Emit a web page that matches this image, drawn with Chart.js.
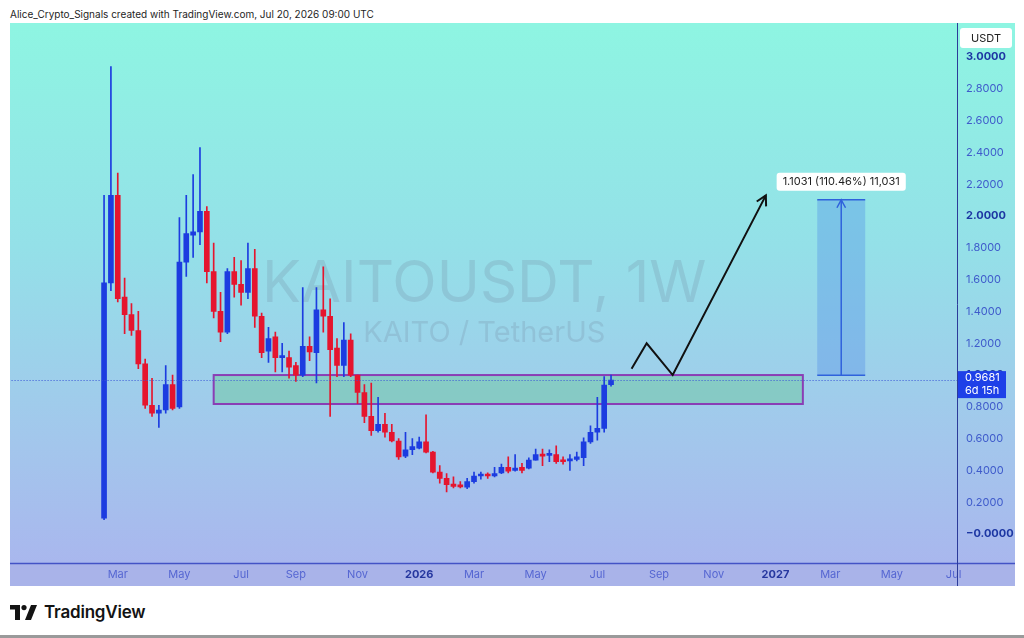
<!DOCTYPE html>
<html>
<head>
<meta charset="utf-8">
<title>KAITOUSDT, 1W</title>
<script src="https://cdn.jsdelivr.net/npm/chart.js@4.4.1/dist/chart.umd.min.js"></script>
<style>
  html, body { margin: 0; padding: 0; background: #fff; }
  body { width: 1024px; height: 638px; position: relative; overflow: hidden; font-family: Inter, "Noto Sans", sans-serif; }
  .header { position: absolute; left: 10px; top: 8px; font-size: 10px; color: #1e1e1e; white-space: nowrap; }
  .chartBox { position: absolute; left: 10px; top: 23px; width: 1005px; height: 563px; }
  .footer { position: absolute; left: 10px; top: 601px; height: 22px; display: flex; align-items: center; }
  .footer svg { margin-right: 7px; }
  .footer span { font-size: 17px; font-weight: 600; color: #131313; letter-spacing: -0.2px; }
  .bottomLine { position: absolute; left: 0; top: 635px; width: 1024px; height: 3px; background: #9a9a9a; }
</style>
</head>
<body>
<div class="header">Alice_Crypto_Signals created with TradingView.com, Jul 20, 2026 09:00 UTC</div>
<div class="chartBox"><canvas id="kaitoChart"></canvas></div>
<div class="footer">
  <svg width="27" height="15" viewBox="0 0 27 15">
    <rect x="0" y="0" width="10" height="4.5" fill="#131313"/>
    <rect x="5" y="0" width="5" height="15" fill="#131313"/>
    <circle cx="14" cy="2.6" r="2.6" fill="#131313"/>
    <polygon points="15,15 21,0 27,0 21,15" fill="#131313"/>
  </svg>
  <span>TradingView</span>
</div>
<div class="bottomLine"></div>

<script>
// weekly candles, first one = week of Feb 17 2025, last = week of Jul 20 2026
const opens  = [0.10, 1.58, 2.13, 1.49, 1.38, 1.28, 1.07, 0.81, 0.76, 0.78,
                0.94, 0.80, 1.71, 1.88, 1.90, 2.03, 1.65, 1.40, 1.27, 1.65,
                1.57, 1.52, 1.67, 1.37, 1.15, 1.24, 1.11, 1.11, 1.06, 1.00,
                1.18, 1.14, 1.41, 1.37, 1.17, 1.06, 1.22, 1.00, 0.89, 0.74,
                0.65, 0.69, 0.64, 0.585, 0.49, 0.53, 0.54, 0.58, 0.515, 0.39,
                0.35, 0.315, 0.31, 0.295, 0.33, 0.365, 0.375, 0.365, 0.385, 0.42,
                0.40, 0.42, 0.415, 0.465, 0.50, 0.495, 0.50, 0.465, 0.46, 0.47,
                0.48, 0.58, 0.64, 0.665, 0.94];
const highs  = [2.13, 2.94, 2.27, 1.61, 1.45, 1.40, 1.10, 0.98, 0.81, 1.06,
                1.00, 1.99, 2.13, 2.26, 2.43, 2.06, 1.83, 1.52, 1.67, 1.74,
                1.72, 1.83, 1.79, 1.39, 1.30, 1.27, 1.20, 1.15, 1.08, 1.55,
                1.24, 1.55, 1.68, 1.48, 1.23, 1.33, 1.26, 1.00, 0.94, 0.95,
                0.86, 0.76, 0.69, 0.60, 0.64, 0.60, 0.61, 0.75, 0.52, 0.43,
                0.38, 0.36, 0.33, 0.35, 0.39, 0.39, 0.385, 0.42, 0.44, 0.485,
                0.50, 0.445, 0.48, 0.535, 0.535, 0.53, 0.555, 0.485, 0.50, 0.515,
                0.605, 0.68, 0.86, 0.99, 1.00];
const lows   = [0.09, 1.53, 1.46, 1.26, 1.25, 1.04, 0.79, 0.74, 0.67, 0.76,
                0.78, 0.79, 1.62, 1.74, 1.82, 1.58, 1.36, 1.21, 1.26, 1.49,
                1.44, 1.48, 1.30, 1.11, 1.08, 1.02, 1.02, 0.98, 0.96, 0.99,
                1.09, 0.95, 1.27, 0.74, 0.99, 0.99, 0.99, 0.82, 0.70, 0.62,
                0.64, 0.61, 0.58, 0.47, 0.48, 0.50, 0.535, 0.51, 0.385, 0.32,
                0.265, 0.29, 0.29, 0.285, 0.32, 0.345, 0.35, 0.36, 0.38, 0.385,
                0.395, 0.385, 0.41, 0.465, 0.43, 0.455, 0.445, 0.44, 0.40, 0.46,
                0.43, 0.57, 0.59, 0.64, 0.93];
const closes = [1.58, 2.13, 1.48, 1.38, 1.28, 1.07, 0.81, 0.76, 0.78, 0.94,
                0.79, 1.71, 1.89, 1.90, 2.03, 1.65, 1.40, 1.27, 1.65, 1.57,
                1.52, 1.67, 1.37, 1.14, 1.23, 1.11, 1.12, 1.05, 1.00, 1.18,
                1.145, 1.41, 1.37, 1.16, 1.06, 1.22, 1.00, 0.89, 0.74, 0.65,
                0.69, 0.64, 0.585, 0.485, 0.53, 0.55, 0.58, 0.515, 0.39, 0.35,
                0.31, 0.30, 0.297, 0.33, 0.365, 0.37, 0.365, 0.38, 0.42, 0.395,
                0.415, 0.40, 0.465, 0.50, 0.49, 0.50, 0.455, 0.455, 0.47, 0.485,
                0.58, 0.64, 0.665, 0.937, 0.968];

const monthNames = ['Jan', 'Feb', 'Mar', 'Apr', 'May', 'Jun', 'Jul', 'Aug', 'Sep', 'Oct', 'Nov', 'Dec'];

// drawings (weeks counted from the first candle)
const zonePrices = [0.818, 1.0];
const zoneWeeks = [16, 102];
const pathWeeks = [77, 79.2, 83, 96.6];
const pathPrices = [1.04, 1.20, 1.00, 2.13];
const measureWeeks = [104.1, 111.1];
const measurePrices = [0.9987, 2.1018];
const measureText = '1.1031 (110.46%) 11,031';
const lastPrice = 0.9681;
const lastPriceText = ['0.9681', '6d 15h'];

const BLUE = '#1c3ce0';
const RED = '#e5152e';
const FONT = 'Inter, "Noto Sans", sans-serif';

// the time axis, one slot per week, starting 13 weeks before the first candle
const firstWeek = Date.UTC(2024, 10, 18);
const candleOffset = 13;
const weekCount = 138;
const weeks = [];
for (let i = 0; i < weekCount; i++) weeks.push(new Date(firstWeek + i * 7 * 864e5));
const labels = weeks.map(d => d.toISOString().slice(0, 10));

const colors = closes.map((c, i) => c >= opens[i] ? BLUE : RED);
const bodies = opens.map((o, i) => ({ x: labels[i + candleOffset], y: [o, closes[i]] }));
const wicks = lows.map((l, i) => ({ x: labels[i + candleOffset], y: [l, highs[i]] }));
const path = pathWeeks.map((w, i) => ({ x: w + candleOffset, y: pathPrices[i] }));

function xLabel(i) {
    const d = weeks[i];
    if (!d || i < candleOffset || d.getUTCDate() > 7 || d.getUTCMonth() % 2 !== 0) return '';
    return d.getUTCMonth() === 0 ? String(d.getUTCFullYear()) : monthNames[d.getUTCMonth()];
}
function isYear(c) {
    return /^\d/.test(xLabel(c.index));
}
function roundY(c) {
    if (!c.tick) return false;
    const v = c.tick.value;
    return Math.abs(v - Math.round(v)) < 1e-6;
}

function arrowHead(ctx, fromX, fromY, toX, toY, len) {
    const a = Math.atan2(toY - fromY, toX - fromX);
    ctx.beginPath();
    ctx.moveTo(toX - len * Math.cos(a - 0.5), toY - len * Math.sin(a - 0.5));
    ctx.lineTo(toX, toY);
    ctx.lineTo(toX - len * Math.cos(a + 0.5), toY - len * Math.sin(a + 0.5));
    ctx.stroke();
}

const tvPlugin = {
    id: 'tvDrawings',
    beforeDraw(chart) {
        const { ctx, width, height, chartArea } = chart;
        const g = ctx.createLinearGradient(0, 0, 0, height);
        g.addColorStop(0, '#8ef5e2');
        g.addColorStop(0.4, '#94e0e8');
        g.addColorStop(0.75, '#a3c6ec');
        g.addColorStop(1, '#aab4ee');
        ctx.save();
        ctx.fillStyle = g;
        ctx.fillRect(0, 0, width, height);
        ctx.fillStyle = '#a9b3e9';
        ctx.fillRect(0, chartArea.bottom, width, height - chartArea.bottom);
        ctx.restore();
    },
    beforeDatasetsDraw(chart) {
        const { ctx, chartArea: a } = chart;
        const x2 = chart.scales.x2, y = chart.scales.y;
        const cx = (a.left + a.right) / 2;
        ctx.save();
        // watermark
        ctx.textAlign = 'center';
        ctx.textBaseline = 'middle';
        ctx.fillStyle = 'rgba(105,120,145,0.2)';
        ctx.font = '58px ' + FONT;
        ctx.fillText('KAITOUSDT, 1W', cx, a.top + 262);
        ctx.font = '29px ' + FONT;
        ctx.fillText('KAITO / TetherUS', cx, a.top + 310);

        // zone
        const zl = x2.getPixelForValue(zoneWeeks[0] + candleOffset);
        const zr = x2.getPixelForValue(zoneWeeks[1] + candleOffset);
        const zt = y.getPixelForValue(zonePrices[1]);
        const zb = y.getPixelForValue(zonePrices[0]);
        ctx.fillStyle = 'rgba(105,200,150,0.45)';
        ctx.fillRect(zl, zt, zr - zl, zb - zt);
        ctx.strokeStyle = '#8a3db5';
        ctx.lineWidth = 2;
        ctx.strokeRect(zl, zt, zr - zl, zb - zt);

        // measure box fill
        const ml = x2.getPixelForValue(measureWeeks[0] + candleOffset);
        const mr = x2.getPixelForValue(measureWeeks[1] + candleOffset);
        const mt = y.getPixelForValue(measurePrices[1]);
        const mb = y.getPixelForValue(measurePrices[0]);
        ctx.fillStyle = 'rgba(70,130,230,0.32)';
        ctx.fillRect(ml, mt, mr - ml, mb - mt);
        ctx.restore();
    },
    afterDatasetsDraw(chart) {
        const { ctx, chartArea: a } = chart;
        const x2 = chart.scales.x2, y = chart.scales.y;
        ctx.save();
        // last price dotted line
        const py = Math.round(y.getPixelForValue(lastPrice)) + 0.5;
        ctx.strokeStyle = '#3a55d6';
        ctx.lineWidth = 1;
        ctx.setLineDash([1, 2]);
        ctx.beginPath();
        ctx.moveTo(a.left, py);
        ctx.lineTo(a.right, py);
        ctx.stroke();
        ctx.setLineDash([]);

        // arrow head of the projected path
        const n = path.length;
        ctx.strokeStyle = '#111';
        ctx.lineWidth = 2;
        arrowHead(ctx, x2.getPixelForValue(path[n - 2].x), y.getPixelForValue(path[n - 2].y),
            x2.getPixelForValue(path[n - 1].x), y.getPixelForValue(path[n - 1].y), 11);

        // measure lines and arrow
        const ml = x2.getPixelForValue(measureWeeks[0] + candleOffset);
        const mr = x2.getPixelForValue(measureWeeks[1] + candleOffset);
        const mc = (ml + mr) / 2;
        const mt = y.getPixelForValue(measurePrices[1]);
        const mb = y.getPixelForValue(measurePrices[0]);
        ctx.strokeStyle = '#2f62dc';
        ctx.lineWidth = 1.5;
        ctx.beginPath();
        ctx.moveTo(ml, mt); ctx.lineTo(mr, mt);
        ctx.moveTo(ml, mb); ctx.lineTo(mr, mb);
        ctx.moveTo(mc, mb); ctx.lineTo(mc, mt);
        ctx.stroke();
        arrowHead(ctx, mc, mb, mc, mt, 9);

        // measure label
        ctx.font = '11px ' + FONT;
        const tw = ctx.measureText(measureText).width + 12;
        ctx.fillStyle = '#ffffff';
        ctx.beginPath();
        ctx.roundRect(mc - tw / 2, mt - 27, tw, 18, 3);
        ctx.fill();
        ctx.fillStyle = '#1e1e1e';
        ctx.textAlign = 'center';
        ctx.textBaseline = 'middle';
        ctx.fillText(measureText, mc, mt - 18);
        ctx.restore();
    },
    afterDraw(chart) {
        const { ctx, chartArea: a, width, height } = chart;
        const y = chart.scales.y;
        ctx.save();
        // axis lines
        ctx.strokeStyle = '#4353c6';
        ctx.lineWidth = 1.5;
        ctx.beginPath();
        ctx.moveTo(0, a.bottom + 0.5);
        ctx.lineTo(width, a.bottom + 0.5);
        ctx.stroke();
        ctx.strokeStyle = '#2c3b9a';
        ctx.lineWidth = 1;
        ctx.beginPath();
        ctx.moveTo(a.right + 0.5, 0);
        ctx.lineTo(a.right + 0.5, height);
        ctx.stroke();

        // last price label
        const py = y.getPixelForValue(lastPrice);
        ctx.fillStyle = '#1e40e8';
        ctx.fillRect(a.right + 1, py - 9, 48, 27);
        ctx.fillStyle = '#ffffff';
        ctx.font = '11px ' + FONT;
        ctx.textAlign = 'left';
        ctx.textBaseline = 'middle';
        ctx.fillText(lastPriceText[0], a.right + 8, py - 2);
        ctx.fillText(lastPriceText[1], a.right + 8, py + 11);

        // currency label
        ctx.fillStyle = '#ffffff';
        ctx.beginPath();
        ctx.roundRect(a.right + 3, a.top + 5, 52, 20, 3);
        ctx.fill();
        ctx.fillStyle = '#222';
        ctx.textAlign = 'center';
        ctx.fillText('USDT', a.right + 29, a.top + 15.5);
        ctx.restore();
    }
};

new Chart(document.getElementById('kaitoChart'), {
    type: 'bar',
    data: {
        labels: labels,
        datasets: [{
            label: 'body',
            data: bodies,
            backgroundColor: colors,
            barThickness: 5,
            minBarLength: 2,
            grouped: false,
            order: 0
        }, {
            label: 'wick',
            data: wicks,
            backgroundColor: colors,
            barThickness: 1,
            grouped: false,
            order: 1
        }, {
            type: 'line',
            label: 'path',
            data: path,
            xAxisID: 'x2',
            borderColor: '#111',
            borderWidth: 2,
            pointRadius: 0,
            tension: 0,
            order: -1
        }]
    },
    options: {
        responsive: true,
        maintainAspectRatio: false,
        animation: false,
        layout: { padding: 0 },
        plugins: {
            legend: { display: false },
            tooltip: { enabled: false }
        },
        scales: {
            x: {
                type: 'category',
                offset: true,
                grid: { display: false, drawTicks: false },
                border: { display: false },
                ticks: {
                    autoSkip: false,
                    maxRotation: 0,
                    padding: 5,
                    callback: (v, i) => xLabel(i),
                    color: c => isYear(c) ? '#26379f' : '#5566d2',
                    font: c => ({ family: FONT, size: 11, weight: isYear(c) ? 'bold' : 'normal' })
                },
                afterFit: s => { s.height = 23; }
            },
            x2: {
                type: 'linear',
                display: false,
                offset: false,
                min: -0.5,
                max: weekCount - 0.5
            },
            y: {
                position: 'right',
                min: -0.182,
                max: 3.214,
                grid: { display: false, drawTicks: false },
                border: { display: false },
                ticks: {
                    stepSize: 0.2,
                    includeBounds: false,
                    padding: 9,
                    callback: v => v > 3.05 ? '' : (Math.abs(v) < 1e-6 ? '\u22120.0000' : v.toFixed(4)),
                    color: c => roundY(c) ? '#1d37a3' : '#3f5bcb',
                    font: c => ({ family: FONT, size: 11, weight: roundY(c) ? 'bold' : 'normal' })
                },
                afterFit: s => {
                    s.width = 58;
                    s.paddingTop = 0;
                    s.paddingBottom = 0;
                }
            }
        }
    },
    plugins: [tvPlugin]
});
</script>
</body>
</html>
